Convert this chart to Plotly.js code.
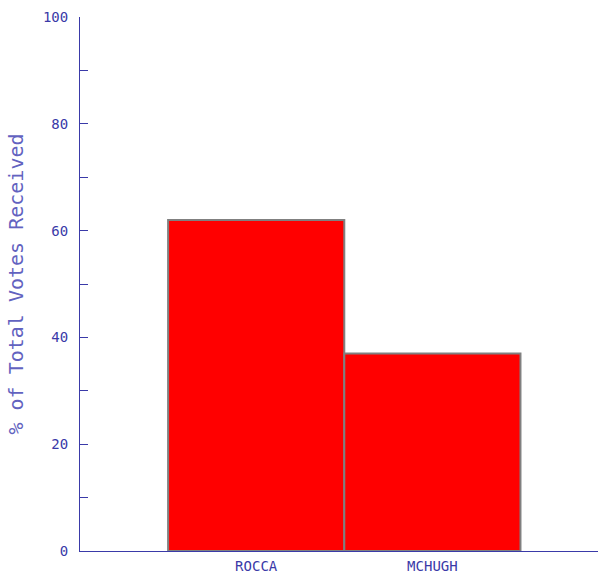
<!DOCTYPE html>
<html>
<head>
<meta charset="utf-8">
<script src="https://cdn.plot.ly/plotly-3.0.1.min.js"></script>
<style>html,body{margin:0;padding:0;background:#fff;}#chart{width:598px;height:576px;}</style>
</head>
<body>
<div id="chart"></div>
<script>
const candidates = ["ROCCA", "MCHUGH"];
const votePct = [62, 37];
const positions = candidates.map((_, i) => i);
const axisColor = "#3a3aa8";
const fontFam = "DejaVu Sans Mono, monospace";

Plotly.newPlot("chart", [{
  type: "bar",
  x: positions,
  y: votePct,
  width: 1,
  marker: {color: "#ff0000", line: {color: "#808080", width: 2}},
  hoverinfo: "none"
}], {
  width: 598, height: 576,
  margin: {l: 80, r: 0, t: 17, b: 25},
  paper_bgcolor: "#ffffff", plot_bgcolor: "#ffffff",
  showlegend: false,
  bargap: 0,
  xaxis: {
    range: [-1.0, 1.94],
    tickvals: positions,
    ticktext: candidates,
    ticks: "",
    showgrid: false, zeroline: false,
    showline: true, linecolor: axisColor, linewidth: 1,
    tickfont: {family: fontFam, size: 14, color: axisColor},
    ticklabelstandoff: 2,
    fixedrange: true
  },
  yaxis: {
    range: [0, 100],
    tickvals: [0, 20, 40, 60, 80, 100],
    ticks: "inside", ticklen: 8, tickcolor: axisColor, tickwidth: 1,
    minor: {tickvals: [10, 30, 50, 70, 90], ticks: "inside", ticklen: 8, tickcolor: axisColor, showgrid: false},
    showgrid: false, zeroline: false,
    showline: true, linecolor: axisColor, linewidth: 1,
    tickfont: {family: fontFam, size: 14, color: axisColor},
    ticklabelstandoff: 8,
    title: {text: "% of Total Votes Received", font: {family: fontFam, size: 20, color: "#6262c0"}, standoff: 13},
    fixedrange: true
  }
}, {displayModeBar: false, staticPlot: true});
</script>
</body>
</html>
